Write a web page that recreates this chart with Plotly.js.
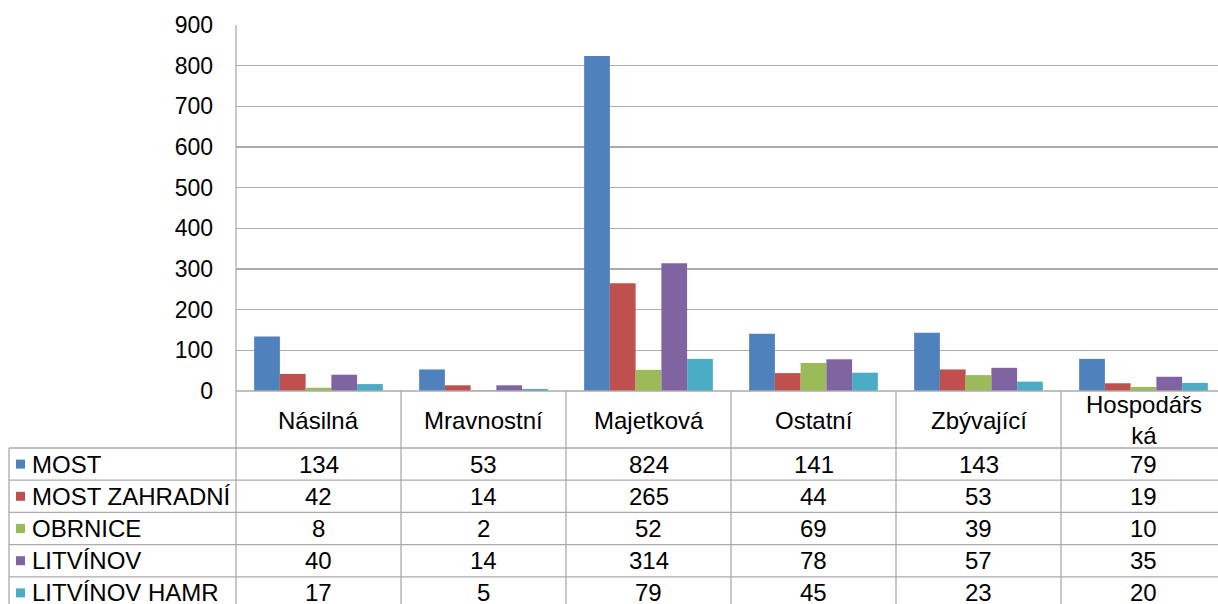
<!DOCTYPE html>
<html>
<head>
<meta charset="utf-8">
<script src="https://cdn.plot.ly/plotly-3.0.1.min.js"></script>
<style>
html,body{margin:0;padding:0;overflow:hidden;background:#fff;}
#chart{width:1230px;height:604px;}
</style>
</head>
<body>
<div id="chart"></div>
<script>
const categories = ['Násilná','Mravnostní','Majetková','Ostatní','Zbývající','Hospodářská'];
const categoryLabels = ['Násilná','Mravnostní','Majetková','Ostatní','Zbývající','Hospodářs<br>ká'];
const seriesNames = ['MOST','MOST ZAHRADNÍ','OBRNICE','LITVÍNOV','LITVÍNOV HAMR'];
const most = [134,53,824,141,143,79];
const mostZahradni = [42,14,265,44,53,19];
const obrnice = [8,2,52,69,39,10];
const litvinov = [40,14,314,78,57,35];
const litvinovHamr = [17,5,79,45,23,20];
const seriesValues = [most,mostZahradni,obrnice,litvinov,litvinovHamr];
const colors = ['#4F81BD','#C0504D','#9BBB59','#8064A2','#4BACC6'];
const yTicks = [0,100,200,300,400,500,600,700,800,900];

// layout geometry (pixels)
const W = 1230, H = 604;
const L = 236, R = 1226, T = 25, B = 391;
const pw = R - L, ph = B - T;
const px = x => (x - L) / pw;
const py = y => (B - y) / ph;
const gridColor = '#ababab';
const font = 'Liberation Sans, Arial, sans-serif';
const fs = 23;
const tfs = 24;

const xs = categories.map((c,i)=>i);
const traces = seriesNames.map((n,s)=>({
  type:'bar', name:n, x:xs, y:seriesValues[s],
  marker:{color:colors[s], line:{width:0}},
  hoverinfo:'y+name'
}));

const shapes = [];
const annotations = [];
const line = {color:gridColor, width:1.3};
// y axis line from top to bottom of table
shapes.push({type:'line', xref:'paper', yref:'paper', x0:0, x1:0, y0:1, y1:py(H+10), line});
// baseline under bars
shapes.push({type:'line', xref:'paper', yref:'paper', x0:0, x1:1, y0:0, y1:0, line});
// category dividers
for (let k=1;k<=categories.length;k++){
  shapes.push({type:'line', xref:'x', yref:'paper', x0:k-0.5, x1:k-0.5, y0:0, y1:py(H+10), line});
}
// row lines
const rowTop = 448, rowH = 32.2;
for (let r=0;r<=seriesNames.length;r++){
  const y = rowTop + r*rowH;
  shapes.push({type:'line', xref:'paper', yref:'paper', x0:px(9), x1:1, y0:py(y), y1:py(y), line});
}
// left border of legend column
shapes.push({type:'line', xref:'paper', yref:'paper', x0:px(9), x1:px(9), y0:py(rowTop), y1:py(H+10), line});

// header labels
categoryLabels.forEach((c,i)=>{
  annotations.push({xref:'x', yref:'paper', x:i, y:py(420), text:c, showarrow:false,
    xanchor:'center', yanchor:'middle', font:{family:font, size:tfs, color:'#000'}, align:'center'});
});
// rows
seriesNames.forEach((n,s)=>{
  const cy = rowTop + (s+0.5)*rowH;
  shapes.push({type:'rect', xref:'paper', yref:'paper', x0:px(16), x1:px(25), y0:py(cy-4.5), y1:py(cy+4.5),
    fillcolor:colors[s], line:{width:0}});
  annotations.push({xref:'paper', yref:'paper', x:px(30), y:py(cy), text:n, showarrow:false,
    xanchor:'left', yanchor:'middle', font:{family:font, size:tfs, color:'#000'}});
  seriesValues[s].forEach((v,i)=>{
    annotations.push({xref:'x', yref:'paper', x:i, y:py(cy), text:String(v), showarrow:false,
      xanchor:'center', yanchor:'middle', font:{family:font, size:tfs, color:'#000'}});
  });
});

const layout = {
  width:W, height:H,
  margin:{l:L, r:W-R, t:T, b:H-B, pad:0},
  paper_bgcolor:'#fff', plot_bgcolor:'#fff',
  barmode:'group', bargap:0.22, bargroupgap:0,
  showlegend:false,
  font:{family:font, size:fs, color:'#000'},
  xaxis:{range:[-0.5,5.5], showticklabels:false, showgrid:false, zeroline:false, showline:false, ticks:'', fixedrange:true},
  yaxis:{range:[0,900], tickvals:yTicks, ticktext:yTicks.map(String), showgrid:true, gridcolor:gridColor, gridwidth:1.3,
    zeroline:false, showline:false, ticks:'', ticklabelstandoff:22, tickfont:{family:font, size:fs, color:'#000'}, fixedrange:true},
  shapes, annotations
};
Plotly.newPlot('chart', traces, layout, {displayModeBar:false, staticPlot:true});
</script>
</body>
</html>
